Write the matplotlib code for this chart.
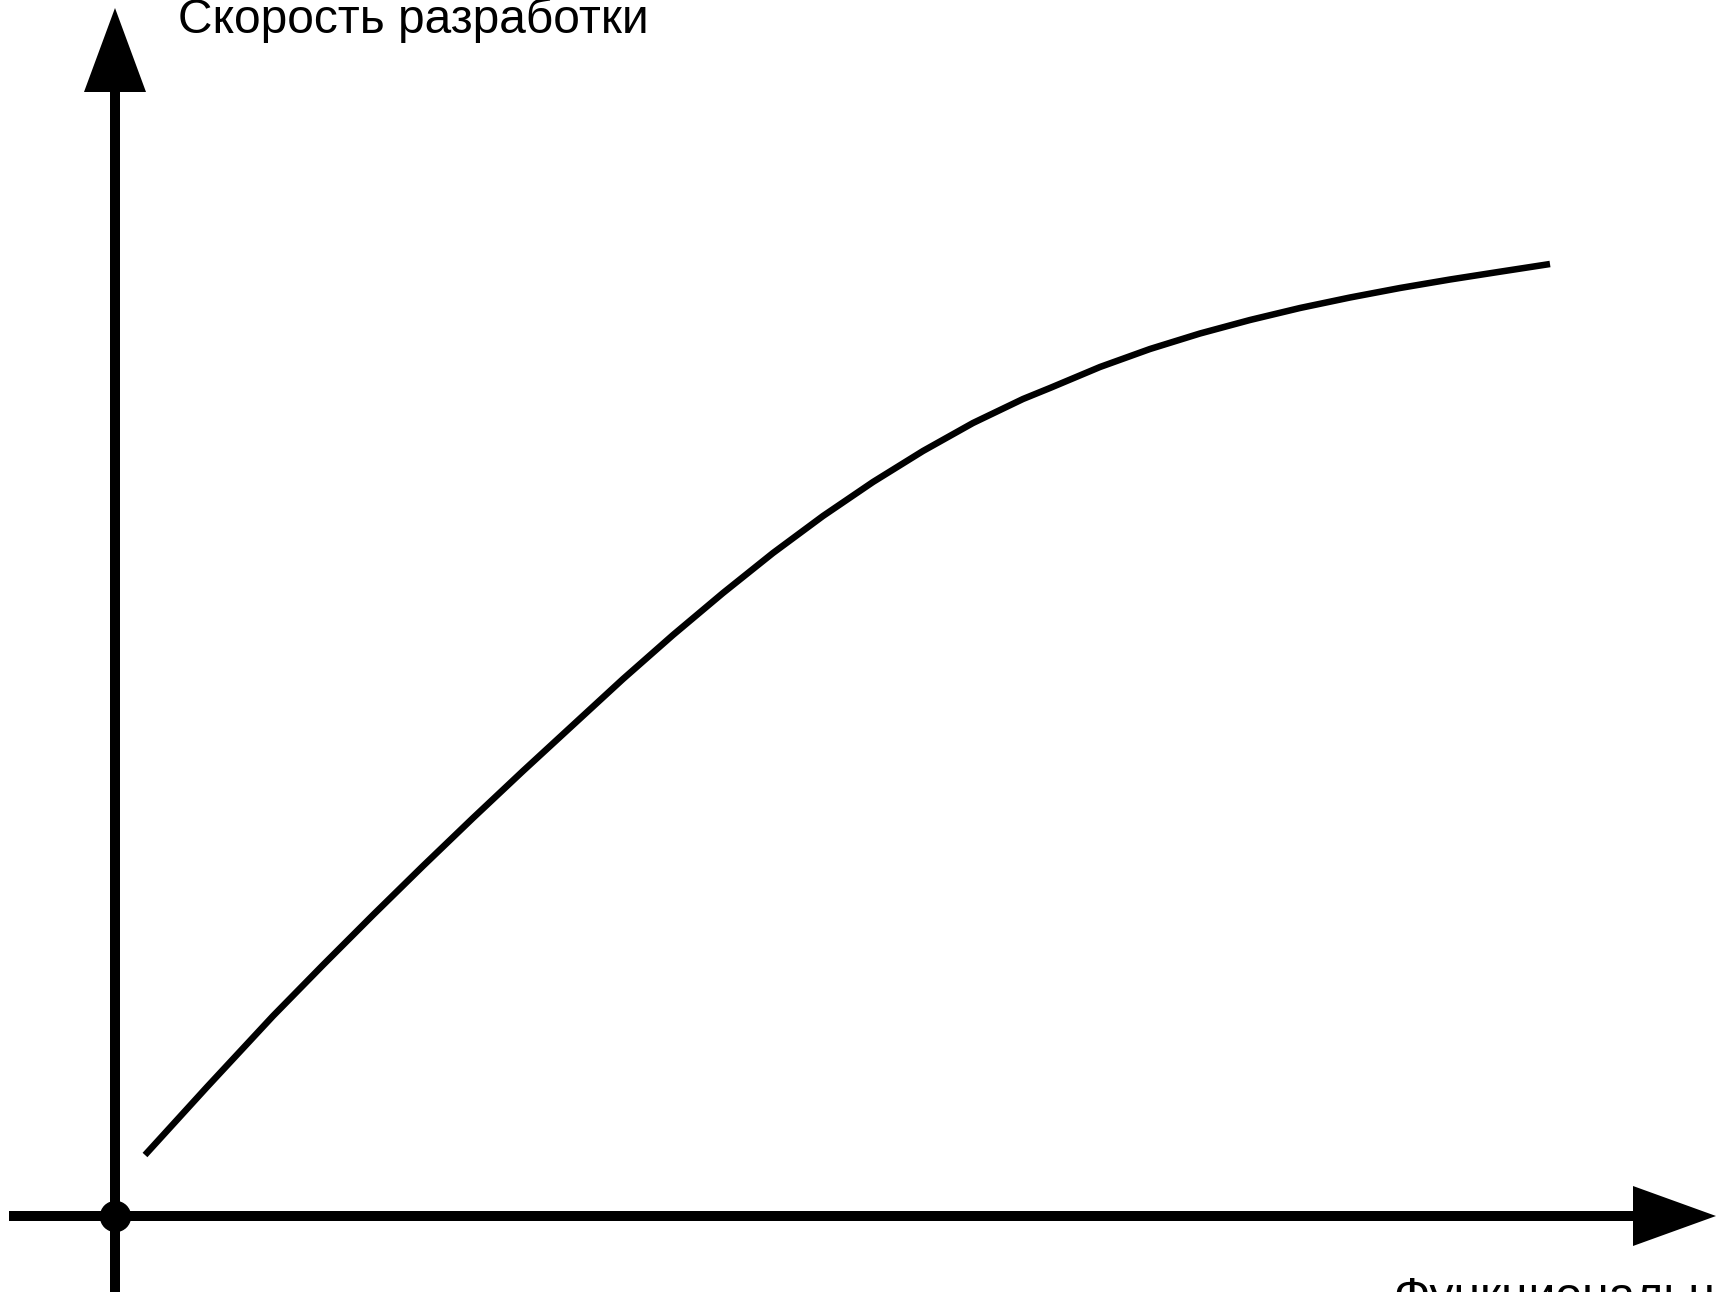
import numpy as np
import matplotlib.pyplot as plt

plt.rcParams['font.family'] = ['Liberation Sans', 'DejaVu Sans']

# curve (units: 100 px from the origin)
func = [0.30, 0.92, 1.58, 2.08, 2.58, 3.08, 3.58, 4.08, 4.58, 5.08,
        5.58, 6.08, 6.58, 7.08, 7.58, 8.08, 8.58, 9.08, 9.35, 9.85,
        10.35, 10.85, 11.35, 11.85, 12.35, 12.85, 13.35, 13.85, 14.35]
speed = [0.61, 1.29, 2.00, 2.51, 3.01, 3.50, 3.98, 4.45, 4.91, 5.37,
         5.81, 6.23, 6.63, 7.00, 7.34, 7.65, 7.93, 8.17, 8.28, 8.49,
         8.67, 8.825, 8.96, 9.08, 9.185, 9.28, 9.365, 9.443, 9.52]

y_label = 'Скорость разработки'
x_label = 'Функциональность'

fig = plt.figure(figsize=(17.16, 12.92), dpi=100)
ax = fig.add_axes([0, 0, 1, 1])
ax.set_xlim(-1.15, 16.01)
ax.set_ylim(-0.76, 12.16)
ax.axis('off')

# axes with arrowheads
ax.plot([-1.06, 15.3], [0, 0], color='black', lw=7.2, solid_capstyle='butt')
ax.plot([0, 0], [-0.8, 11.3], color='black', lw=7.2, solid_capstyle='butt')
ax.fill([15.18, 16.01, 15.18], [0.30, 0, -0.30], color='black', lw=0)
ax.fill([-0.31, 0, 0.31], [11.24, 12.08, 11.24], color='black', lw=0)
ax.plot([0], [0], 'o', color='black', ms=21.6)

ax.plot(func, speed, color='black', lw=4.7, solid_capstyle='butt',
        solid_joinstyle='round')

ax.text(0.63, 11.83, y_label, fontsize=34.5, ha='left', va='baseline')
ax.text(12.78, -0.95, x_label, fontsize=34.5, ha='left', va='baseline')

fig.savefig('out.png', dpi=100)
